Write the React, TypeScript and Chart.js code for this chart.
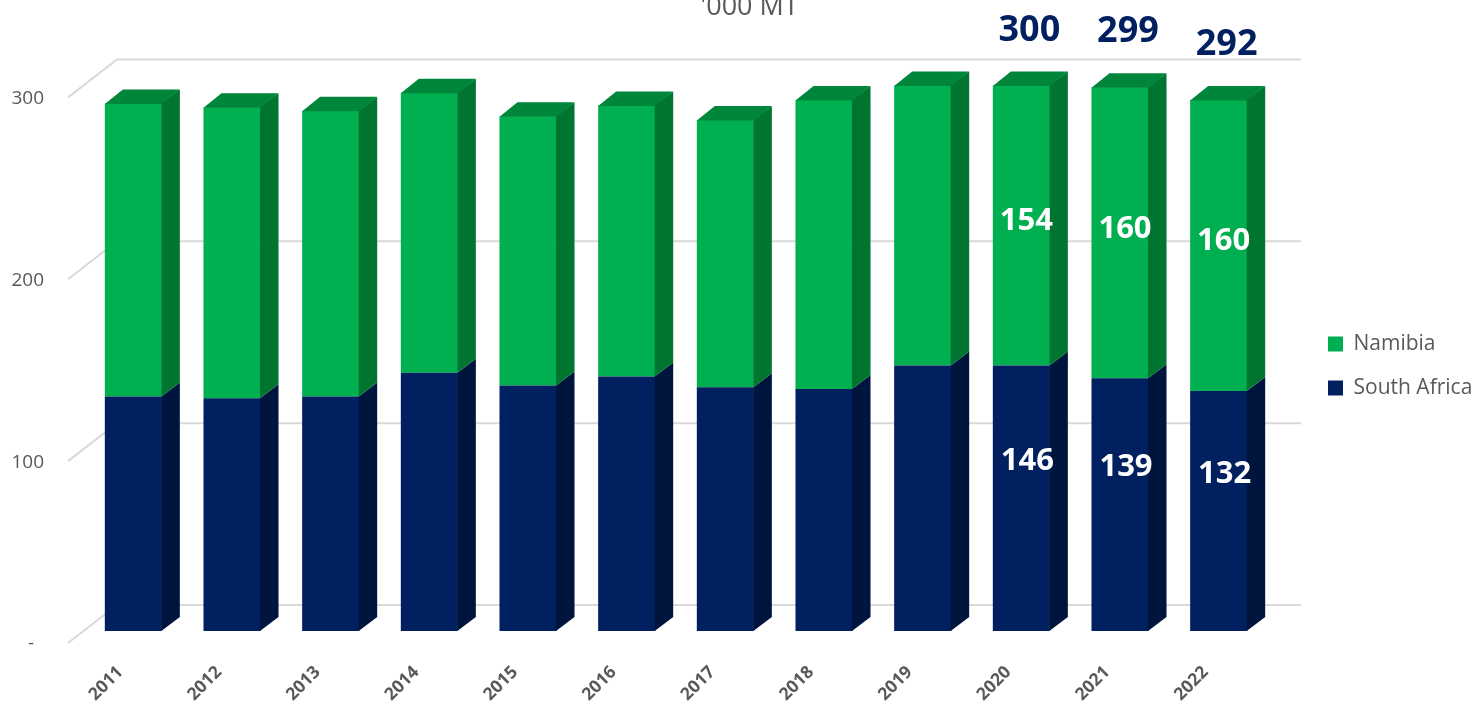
import React, { useEffect, useRef } from 'react';
import { Chart, registerables } from 'chart.js';

Chart.register(...registerables);

const years = ['2011', '2012', '2013', '2014', '2015', '2016', '2017', '2018', '2019', '2020', '2021', '2022'];
const southAfrica = [129, 128, 129, 142, 135, 140, 134, 133, 146, 146, 139, 132];
const namibia = [161, 160, 157, 154, 148, 149, 147, 159, 154, 154, 160, 160];
const labeledYears = ['2020', '2021', '2022'];
const yTickValues = [0, 100, 200, 300];
const unitTitle = "'000 MT";

const GREEN = '#00B050';
const GREEN_SIDE = '#007530';
const GREEN_TOP = '#00863B';
const NAVY = '#002060';
const NAVY_SIDE = '#00153E';
const GRID = '#D9D9D9';
const GRAY_TEXT = '#595959';
const FONT = "'Open Sans', sans-serif";

const DX = 18;
const DY = 14;

const sideColors = [NAVY_SIDE, GREEN_SIDE];

const threeDPlugin = {
  id: 'threeD',
  beforeDatasetsDraw(chart: any) {
    const { ctx, chartArea, scales } = chart;
    const ys = scales.y;
    ctx.save();
    ctx.strokeStyle = GRID;
    ctx.lineWidth = 2;
    for (const t of ys.ticks) {
      const p = ys.getPixelForValue(t.value);
      ctx.beginPath();
      ctx.moveTo(chartArea.left - 16, p + 12);
      ctx.lineTo(chartArea.left + 33, p - 26);
      ctx.lineTo(chartArea.right + 33, p - 26);
      ctx.stroke();
    }
    ctx.restore();
  },
  afterDatasetsDraw(chart: any) {
    const { ctx } = chart;
    const nSets = chart.data.datasets.length;
    ctx.save();
    for (let d = 0; d < nSets; d++) {
      const meta = chart.getDatasetMeta(d);
      meta.data.forEach((el: any) => {
        const { x, y, base, width } = el.getProps(['x', 'y', 'base', 'width'], true);
        const l = x - width / 2;
        const r = x + width / 2;
        ctx.fillStyle = sideColors[d];
        ctx.beginPath();
        ctx.moveTo(r - 0.5, y);
        ctx.lineTo(r + DX, y - DY);
        ctx.lineTo(r + DX, base - DY);
        ctx.lineTo(r - 0.5, base);
        ctx.closePath();
        ctx.fill();
        if (d === nSets - 1) {
          ctx.fillStyle = GREEN_TOP;
          ctx.beginPath();
          ctx.moveTo(l, y + 0.5);
          ctx.lineTo(l + DX, y - DY);
          ctx.lineTo(r + DX, y - DY);
          ctx.lineTo(r, y + 0.5);
          ctx.closePath();
          ctx.fill();
        }
      });
    }
    // data labels
    ctx.textAlign = 'center';
    ctx.textBaseline = 'middle';
    const saMeta = chart.getDatasetMeta(0);
    const naMeta = chart.getDatasetMeta(1);
    years.forEach((yr, i) => {
      if (!labeledYears.includes(yr)) return;
      const sa = saMeta.data[i].getProps(['x', 'y', 'base'], true);
      const na = naMeta.data[i].getProps(['x', 'y', 'base'], true);
      ctx.fillStyle = '#FFFFFF';
      ctx.font = `bold 31px ${FONT}`;
      ctx.fillText(String(southAfrica[i]), sa.x + 6, (sa.y + sa.base) / 2 - 37);
      ctx.fillText(String(namibia[i]), na.x + 5, (na.y + na.base) / 2 - 4);
      ctx.fillStyle = NAVY;
      ctx.font = `bold 36px ${FONT}`;
      ctx.fillText(String(southAfrica[i] + namibia[i]), na.x + 8, na.y - 55);
    });
    ctx.restore();
  },
  afterDraw(chart: any) {
    const { ctx } = chart;
    ctx.save();
    ctx.fillStyle = GRAY_TEXT;
    ctx.font = `27px ${FONT}`;
    ctx.textAlign = 'center';
    ctx.textBaseline = 'alphabetic';
    ctx.fillText(unitTitle, chart.width / 2 + 10, 15);
    ctx.restore();
  },
};

const noPad = (s: any) => {
  s.paddingTop = 0;
  s.paddingBottom = 0;
};

export default function App() {
  const canvasRef = useRef<HTMLCanvasElement | null>(null);

  useEffect(() => {
    if (!canvasRef.current) return;
    Chart.defaults.font.family = FONT;
    const chart = new Chart(canvasRef.current, {
      type: 'bar',
      data: {
        labels: years,
        datasets: [
          {
            label: 'South Africa',
            data: southAfrica,
            backgroundColor: NAVY,
            borderWidth: 0,
            barPercentage: 0.578,
            categoryPercentage: 1,
            stack: 's',
          },
          {
            label: 'Namibia',
            data: namibia,
            backgroundColor: GREEN,
            borderWidth: 0,
            barPercentage: 0.578,
            categoryPercentage: 1,
            stack: 's',
          },
        ],
      },
      options: {
        animation: false,
        responsive: true,
        maintainAspectRatio: false,
        layout: { padding: { top: 29, left: 0, right: 0, bottom: 0 } },
        plugins: {
          legend: {
            position: 'right',
            reverse: true,
            maxWidth: 174,
            labels: {
              boxWidth: 15,
              boxHeight: 15,
              padding: 23,
              color: GRAY_TEXT,
              font: { size: 21, family: FONT },
            },
          },
          tooltip: { enabled: false },
        },
        scales: {
          x: {
            stacked: true,
            grid: { display: false, drawTicks: false },
            border: { display: false },
            ticks: {
              autoSkip: false,
              minRotation: 45,
              maxRotation: 45,
              labelOffset: -13,
              padding: 31,
              color: GRAY_TEXT,
              font: { size: 17.5, weight: 'bold', family: FONT },
            },
            afterFit: (s: any) => {
              s.height = 72;
            },
          },
          y: {
            stacked: true,
            min: 0,
            max: 331,
            grid: { display: false, drawTicks: false },
            border: { display: false },
            afterBuildTicks: (s: any) => {
              s.ticks = yTickValues.map((v) => ({ value: v }));
            },
            ticks: {
              padding: 40,
              labelOffset: 13,
              color: GRAY_TEXT,
              font: { size: 19, family: FONT },
              callback: (v: any) => (Number(v) === 0 ? '-  ' : String(v)),
            },
            afterFit: (s: any) => {
              s.width = 84;
              noPad(s);
            },
          },
          yR: {
            position: 'right',
            display: true,
            grid: { display: false, drawTicks: false },
            border: { display: false },
            ticks: { display: false },
            afterFit: (s: any) => {
              s.width = 37;
              noPad(s);
            },
          },
        },
      },
      plugins: [threeDPlugin],
    });
    return () => chart.destroy();
  }, []);

  return (
    <div style={{ position: 'fixed', left: 0, top: 0, width: 1479, height: 703, background: '#FFFFFF' }}>
      <canvas ref={canvasRef} />
    </div>
  );
}
